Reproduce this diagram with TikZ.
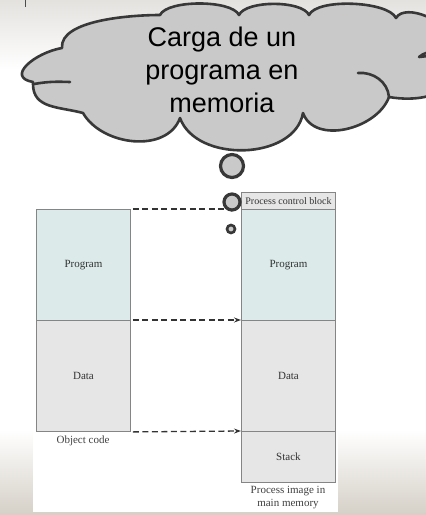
\documentclass[tikz,border=0pt]{standalone}
\usepackage{fontspec}
\setmainfont{Liberation Serif}
\newfontfamily\cloudfont{Liberation Sans}
\usetikzlibrary{arrows.meta}
\definecolor{progfill}{HTML}{DCEAEA}
\definecolor{datafill}{HTML}{E6E6E6}
\definecolor{boxline}{HTML}{858585}
\definecolor{bubfill}{HTML}{C9C9C9}
\definecolor{bubline}{HTML}{383838}
\definecolor{bgtop}{HTML}{E4E2DF}
\definecolor{bgbot}{HTML}{D5D0C7}
\tikzset{
  membox/.style={draw=boxline, line width=0.9pt, anchor=north west, inner sep=0pt,
    font=\fontsize{11}{13}\selectfont, text=black!80},
  dasharrow/.style={draw=black!80, line width=1.3pt, dash pattern=on 6pt off 3.5pt,
    -{Stealth[length=7pt,width=5pt]}},
  bubble/.style={circle, draw=bubline, fill=bubfill, inner sep=0pt},
  caption/.style={font=\fontsize{11}{13}\selectfont, text=black!75, align=center},
  cloudline/.style={bubline, line width=2.6pt, line cap=round, line join=round}
}
\begin{document}
\begin{tikzpicture}[x=1pt,y=-1pt]
\useasboundingbox (0,0) rectangle (426,515);
% background
\fill[white] (0,0) rectangle (426,515);
\shade[top color=bgtop, bottom color=white] (0,0) rectangle (426,70);
\shade[top color=white, bottom color=bgbot] (0,430) rectangle (426,515);
\fill[white] (33,185) rectangle (338,512);
\draw[black!70, line width=0.8pt] (25,0) -- (25,7);
% cloud
\begin{scope}
\clip (0,0) rectangle (426,515);
\draw[cloudline, fill=bubfill]
  (33,82) to[out=170,in=190,looseness=1.6] (62,48)
  to[out=95,in=180,looseness=0.7] (160,15)
  to[out=65,in=115,looseness=0.55] (239,15)
  to[out=65,in=115,looseness=0.6] (309,15)
  to[out=65,in=115,looseness=0.55] (396,18)
  to[out=60,in=90,looseness=0.8] (450,40)
  to[out=-90,in=45,looseness=0.8] (419,57)
  to[out=10,in=90] (450,72)
  to[out=-90,in=-10] (389,97)
  to[out=-110,in=-70] (303,113)
  to[out=-100,in=-70] (180,118)
  to[out=-110,in=-60] (83,113)
  to[out=165,in=-90,looseness=1.1] (33,84)
  -- cycle;
\draw[cloudline] (358,73) to[out=5,in=95] (389,97);
\draw[cloudline] (34,84) to[out=10,in=178] (70,82);
\end{scope}
\node[font=\cloudfont\fontsize{27}{33}\selectfont, align=center, text=black] (title) at (222,70)
  {Carga de un\\programa en\\memoria};
% left memory (object code)
\node[membox, fill=progfill, minimum width=94pt, minimum height=111pt] (lprog) at (36,209) {Program};
\node[membox, fill=datafill, minimum width=94pt, minimum height=111pt] (ldata) at (36,320) {Data};
\node[caption, anchor=north] (lcap) at (83,432) {Object code};
% right memory (process image)
\node[membox, fill=datafill, minimum width=94pt, minimum height=17pt, font=\fontsize{10}{12}\selectfont] (rpcb) at (241,192) {Process control block};
\node[membox, fill=progfill, minimum width=94pt, minimum height=111pt] (rprog) at (241,209) {Program};
\node[membox, fill=datafill, minimum width=94pt, minimum height=111pt] (rdata) at (241,320) {Data};
\node[membox, fill=datafill, minimum width=94pt, minimum height=51pt] (rstack) at (241,431) {Stack};
\node[caption, anchor=north] (rcap) at (288,483) {Process image in\\main memory};
% dashed arrows
\draw[dasharrow] ([xshift=2pt]lprog.north east) -- ([xshift=-3pt]rprog.north west);
\draw[dasharrow] ([xshift=2pt]ldata.north east) -- (rdata.north west);
\draw[dasharrow] ([xshift=2pt]ldata.south east) -- (rstack.north west);
% thought bubbles
\node[bubble, line width=3.2pt, minimum size=23pt] (b1) at (232,166) {};
\node[bubble, line width=3.2pt, minimum size=16pt] (b2) at (232,202) {};
\node[bubble, line width=2.6pt, minimum size=8pt] (b3) at (231,229) {};
\end{tikzpicture}
\end{document}
